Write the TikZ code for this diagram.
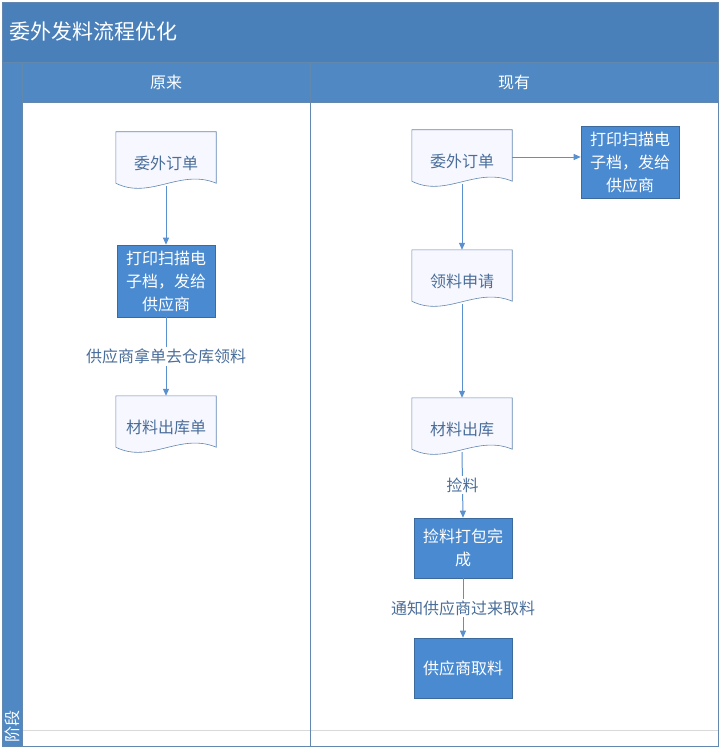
\documentclass[tikz,border=0pt]{standalone}
\usepackage{fontspec}
\setmainfont{Noto Sans CJK SC}
\usetikzlibrary{calc,arrows.meta}
\definecolor{laneBlue}{HTML}{4F88C2}
\definecolor{titleBlue}{HTML}{4A80BA}
\definecolor{edgeBlue}{HTML}{3C6A9C}
\definecolor{boxBlue}{HTML}{4A8AD0}
\definecolor{txtBlue}{HTML}{4A6E9A}
\definecolor{arrBlue}{HTML}{5B90CF}
\tikzset{
  doc/.style={rectangle, minimum width=100pt, minimum height=54pt, inner sep=0pt},
  docText/.style={text=txtBlue, font=\fontsize{16}{19}\selectfont, yshift=-4pt},
  proc/.style={rectangle, fill=boxBlue, draw=edgeBlue, line width=0.6pt, minimum width=98pt, align=center, text=white, font=\fontsize{16}{23}\selectfont},
  flow/.style={-{Triangle[length=7pt,width=6pt]}, draw=arrBlue, line width=1pt},
  edgeText/.style={fill=white, text=txtBlue, font=\fontsize{16}{19}\selectfont, inner sep=2pt}
}
\newcommand{\docshape}[1]{%
  \draw[draw=edgeBlue!80, line width=0.6pt, fill=blue!3] (#1.north west) -- (#1.north east) -- ($(#1.south east)+(0,-3)$)
    .. controls +(-36,-15) and +(34,17) .. ($(#1.south west)+(0,-3)$) -- cycle;}
\begin{document}
\begin{tikzpicture}[x=1pt,y=-1pt]
  \useasboundingbox (0,0) rectangle (720,749);
  % lanes
  \fill[white] (0,0) rectangle (720,749);
  \fill[titleBlue] (2,2) rectangle (718,62);
  \fill[laneBlue] (2,62) rectangle (22,746);
  \fill[laneBlue] (22,62) rectangle (718,102);
  \draw[gray!30] (22,730) -- (718,730);
  \draw[edgeBlue!80, line width=0.8pt] (2,2) rectangle (718,746);
  \draw[edgeBlue!80, line width=0.8pt] (2,62) -- (718,62);
  \draw[edgeBlue!80, line width=0.8pt] (22,62) -- (22,746);
  \draw[edgeBlue!80, line width=0.8pt] (22,102) -- (718,102);
  \draw[edgeBlue!80, line width=0.8pt] (310,62) -- (310,746);
  \node[anchor=west, text=white, font=\fontsize{21}{25}\selectfont] (title) at (6,32) {委外发料流程优化};
  \node[text=white, font=\fontsize{16}{19}\selectfont] (oldHead) at (166,82) {原来};
  \node[text=white, font=\fontsize{16}{19}\selectfont] (newHead) at (514,82) {现有};
  \node[rotate=90, anchor=west, text=white, font=\fontsize{16}{19}\selectfont, inner sep=1pt] (stage) at (12,744) {阶段};

  % left lane
  \node[doc] (oldOrder) at (166,159) {};
  \docshape{oldOrder}
  \node[docText] (oldOrderText) at (oldOrder) {委外订单};
  \node[proc, minimum height=72pt] (oldPrint) at (166,281) {打印扫描电\\子档，发给\\供应商};
  \node[doc] (oldOut) at (166,423) {};
  \docshape{oldOut}
  \node[docText] (oldOutText) at (oldOut) {材料出库单};

  % right lane
  \node[doc] (newOrder) at (462,157) {};
  \docshape{newOrder}
  \node[docText] (newOrderText) at (newOrder) {委外订单};
  \node[proc, minimum height=72pt] (newPrint) at (630,162) {打印扫描电\\子档，发给\\供应商};
  \node[doc] (apply) at (462,277) {};
  \docshape{apply}
  \node[docText] (applyText) at (apply) {领料申请};
  \node[doc] (newOut) at (462,425) {};
  \docshape{newOut}
  \node[docText] (newOutText) at (newOut) {材料出库};
  \node[proc, minimum height=60pt] (pack) at (463,548) {捡料打包完\\成};
  \node[proc, minimum height=60pt] (pickUp) at (463,668) {供应商取料};

  % connectors
  \draw[flow] (oldOrder.south) -- (oldPrint.north);
  \draw[flow] (oldPrint.south) -- node[edgeText] {供应商拿单去仓库领料} (oldOut.north);
  \draw[flow] (newOrder.east) -- (newOrder.east -| newPrint.west);
  \draw[flow] (newOrder.south) -- (apply.north);
  \draw[flow] (apply.south) -- (newOut.north);
  \draw[flow] (newOut.south) -- node[edgeText] {捡料} (pack.north);
  \draw[flow] (pack.south) -- node[edgeText] {通知供应商过来取料} (pickUp.north);
\end{tikzpicture}
\end{document}
